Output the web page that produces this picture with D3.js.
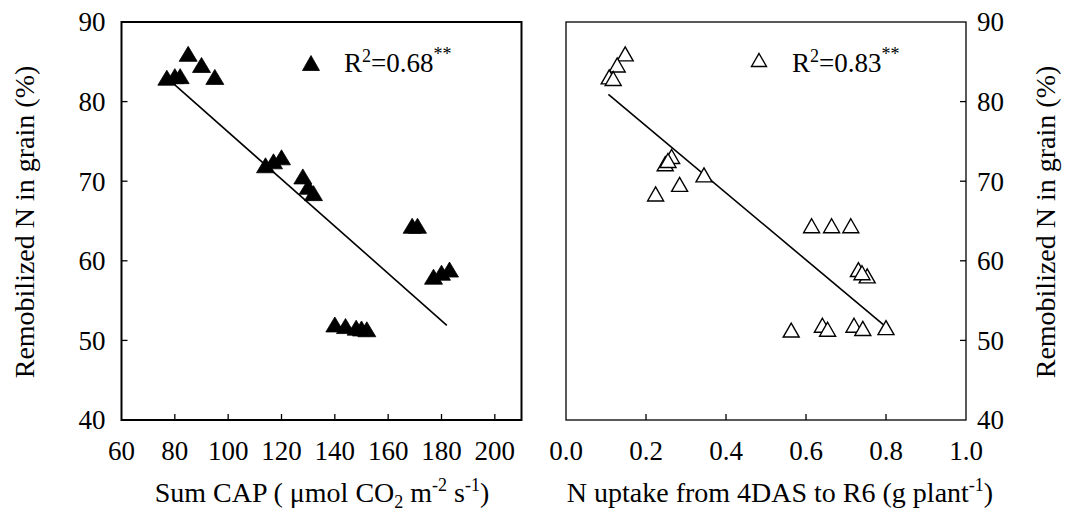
<!DOCTYPE html>
<html><head><meta charset="utf-8">
<script src="https://cdn.jsdelivr.net/npm/d3@7"></script>
<style>body{margin:0;background:#fff}svg{display:block}</style>
</head><body>
<script>
// ---- data ----
const capX = [77, 80, 82, 85, 90, 95, 114, 117, 120, 128, 130, 132, 169, 171, 140, 144, 148, 150, 152, 177, 180, 183];
const capY = [83, 83.2, 83.2, 86, 84.6, 83.1, 72, 72.5, 73, 70.6, 69.3, 68.5, 64.4, 64.4, 52, 51.8, 51.6, 51.5, 51.4, 58, 58.5, 58.9];
const upX = [0.148, 0.128, 0.108, 0.118, 0.264, 0.248, 0.255, 0.345, 0.284, 0.224, 0.614, 0.664, 0.712, 0.731, 0.753, 0.74, 0.563, 0.641, 0.654, 0.72, 0.742, 0.80];
const upY = [86, 84.6, 83.1, 82.9, 73.1, 72.2, 72.6, 70.8, 69.6, 68.4, 64.4, 64.4, 64.4, 58.9, 58.1, 58.5, 51.3, 51.9, 51.4, 51.9, 51.5, 51.6];
const capFitX = [80, 182], capFitY = [82.1, 51.9];
const upFitX = [0.106, 0.80], upFitY = [80.9, 51.7];
const yTicks = [40, 50, 60, 70, 80, 90];
const capTicks = [60, 80, 100, 120, 140, 160, 180, 200];
const upTicks = [0, 0.2, 0.4, 0.6, 0.8, 1.0];
const r2Left = "0.68", r2Right = "0.83";

const W = 1077, H = 527;
const FF = "'Liberation Serif', 'Times New Roman', Tinos, monospace";
const svg = d3.select("body").append("svg").attr("width", W).attr("height", H);

const y = d3.scaleLinear().domain([40, 90]).range([420, 22]);
const xL = d3.scaleLinear().domain([60, 210]).range([121.5, 521.5]);
const xR = d3.scaleLinear().domain([0, 1]).range([566, 966]);
const FS = 27, FT = 28, FSUB = 18;

function tri(w, h) { return `M0,${-h/2}L${w/2},${h/2}L${-w/2},${h/2}Z`; }

function panel(x, xs, ys, fitX, fitY, ticks, fmt, filled, side, sw) {
  const g = svg.append("g");
  const [x0, x1] = x.range(), [y0, y1] = [y.range()[1], y.range()[0]];
  g.append("rect").attr("x", x0).attr("y", y0).attr("width", x1 - x0).attr("height", y1 - y0)
    .attr("fill", "none").attr("stroke", "#000").attr("stroke-width", sw);
  const xt = ticks.filter(t => x(t) > x0 + 1 && x(t) < x1 - 1);
  g.selectAll(".xt").data(xt).join("line")
    .attr("x1", d => x(d)).attr("x2", d => x(d)).attr("y1", y1).attr("y2", y1 - 6)
    .attr("stroke", "#000").attr("stroke-width", 1.3);
  g.selectAll(".xl").data(ticks).join("text")
    .attr("font-family", FF)
    .attr("x", d => x(d)).attr("y", 460).attr("text-anchor", "middle").attr("font-size", FS)
    .text(fmt);
  const ax = side === "left" ? x0 : x1;
  const dir = side === "left" ? 1 : -1;
  g.selectAll(".yt").data(yTicks.slice(1, -1)).join("line")
    .attr("x1", ax).attr("x2", ax + dir * 6).attr("y1", d => y(d)).attr("y2", d => y(d))
    .attr("stroke", "#000").attr("stroke-width", 1.3);
  g.selectAll(".yl").data(yTicks).join("text")
    .attr("font-family", FF)
    .attr("x", side === "left" ? x0 - 16 : x1 + 11)
    .attr("y", d => y(d)).attr("dy", "0.35em")
    .attr("text-anchor", side === "left" ? "end" : "start").attr("font-size", FS)
    .text(d => d);
  g.append("line").attr("x1", x(fitX[0])).attr("y1", y(fitY[0])).attr("x2", x(fitX[1])).attr("y2", y(fitY[1]))
    .attr("stroke", "#000").attr("stroke-width", 1.6);
  const pts = xs.map((v, i) => [v, ys[i]]);
  g.selectAll(".pt").data(pts).join("path")
    .attr("d", filled ? tri(18, 15) : tri(16, 14))
    .attr("transform", d => `translate(${x(d[0])},${y(d[1])})`)
    .attr("fill", filled ? "#000" : "#fff")
    .attr("stroke", "#000").attr("stroke-width", filled ? 0.8 : 1.4);
  return g;
}

panel(xL, capX, capY, capFitX, capFitY, capTicks, d => d, true, "left", 2);
panel(xR, upX, upY, upFitX, upFitY, upTicks, d => d3.format(".1f")(d), false, "right", 1.3);

function legend(tx, ty, filled, val) {
  svg.append("path").attr("d", filled ? tri(17, 15) : tri(15, 13))
    .attr("transform", `translate(${tx},${ty})`)
    .attr("fill", filled ? "#000" : "#fff").attr("stroke", "#000").attr("stroke-width", filled ? 0.8 : 1.4);
  const t = svg.append("text").attr("font-family", FF).attr("x", tx + 33).attr("y", 72).attr("font-size", FS);
  t.append("tspan").text("R");
  t.append("tspan").attr("font-size", FSUB).attr("dy", -10).text("2");
  t.append("tspan").attr("dy", 10).text("=" + val);
  t.append("tspan").attr("font-size", FSUB).attr("dy", -12).text("**");
}
legend(311, 63, true, r2Left);
legend(759, 60, false, r2Right);

const t1 = svg.append("text").attr("font-family", FF).attr("x", 322).attr("y", 502).attr("text-anchor", "middle").attr("font-size", FT);
t1.append("tspan").text("Sum CAP ( \u03bcmol CO");
t1.append("tspan").attr("font-size", FSUB).attr("dy", 6).text("2");
t1.append("tspan").attr("dy", -6).text(" m");
t1.append("tspan").attr("font-size", FSUB).attr("dy", -11).text("-2");
t1.append("tspan").attr("dy", 11).text(" s");
t1.append("tspan").attr("font-size", FSUB).attr("dy", -11).text("-1");
t1.append("tspan").attr("dy", 11).text(")");

const t2 = svg.append("text").attr("font-family", FF).attr("x", 780).attr("y", 502).attr("text-anchor", "middle").attr("font-size", FT);
t2.append("tspan").text("N uptake from 4DAS to R6 (g plant");
t2.append("tspan").attr("font-size", FSUB).attr("dy", -11).text("-1");
t2.append("tspan").attr("dy", 11).text(")");

svg.append("text").attr("font-family", FF).attr("transform", "translate(34,222) rotate(-90)").attr("text-anchor", "middle")
  .attr("font-size", FT).text("Remobilized N in grain (%)");
svg.append("text").attr("font-family", FF).attr("transform", "translate(1055,222) rotate(-90)").attr("text-anchor", "middle")
  .attr("font-size", FT).text("Remobilized N in grain (%)");
</script>
</body></html>
